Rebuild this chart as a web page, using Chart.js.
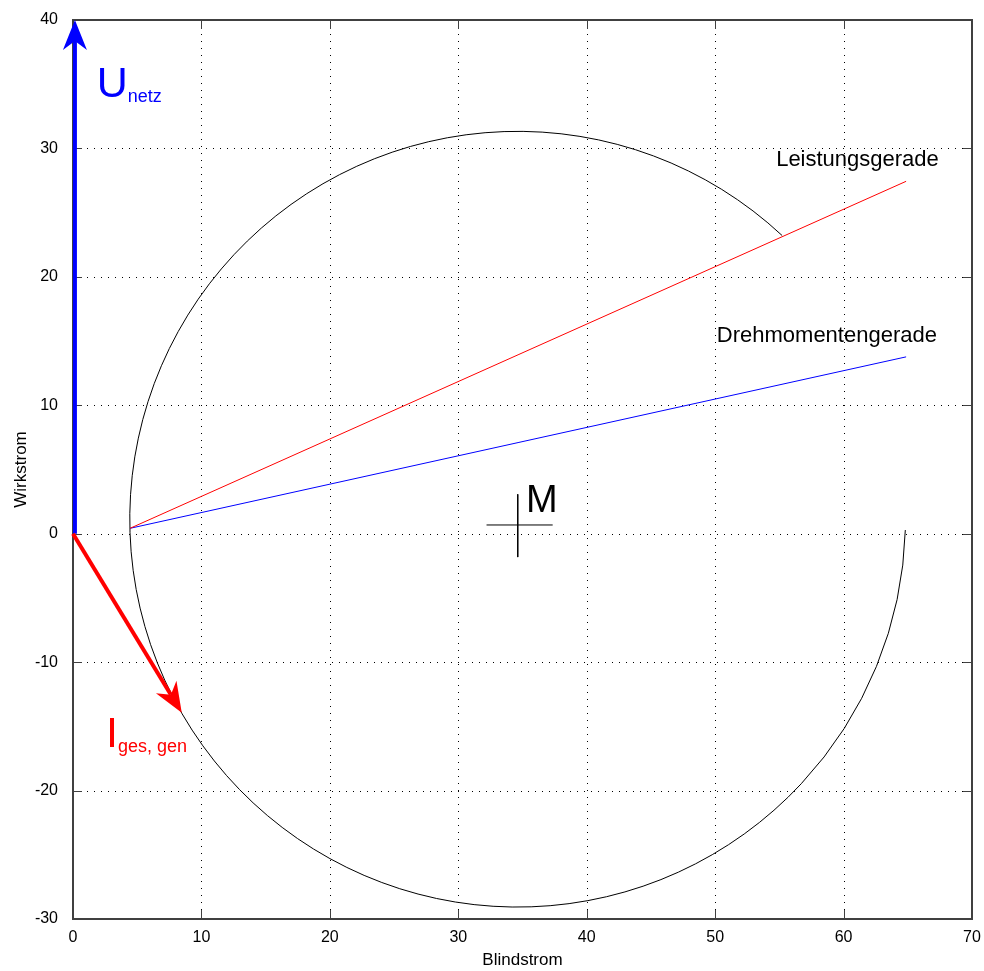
<!DOCTYPE html>
<html>
<head>
<meta charset="utf-8">
<script src="https://cdn.jsdelivr.net/npm/chart.js@4/dist/chart.umd.min.js"></script>
<style>
  html, body { margin: 0; padding: 0; background: #fff; }
</style>
</head>
<body>
<canvas id="myChart" width="984" height="971"></canvas>
<script>
// Achsen
const xTicks = [0, 10, 20, 30, 40, 50, 60, 70];
const yTicks = [-30, -20, -10, 0, 10, 20, 30, 40];

// Leistungsgerade (rot) und Drehmomentengerade (blau)
const leistungX = [4.44, 64.87];
const leistungY = [0.42, 27.44];
const drehX = [4.44, 64.87];
const drehY = [0.42, 13.77];

// Kreis: Mittelpunkt, Radius, Bogen in Grad (gegen den Uhrzeigersinn)
const kreisMitte = [34.62, 1.13];
const kreisRadius = [30.2];
const kreisBogen = [47, 358.4];

// Kreuz am Mittelpunkt M
const kreuzHX = [32.2, 37.35];
const kreuzHY = [0.68, 0.68];
const kreuzVX = [34.63, 34.63];
const kreuzVY = [3.07, -1.82];

// Zeiger U_netz und I_ges,gen
const uNetzX = [0.15, 0.15];
const uNetzY = [0, 40];
const iGesX = [0, 8.47];
const iGesY = [0, -13.94];

// Beschriftungen
const labelTexte = ['Leistungsgerade', 'Drehmomentengerade', 'M'];
const labelX = [54.75, 50.13, 35.28];
const labelY = [28.6, 14.9, 1.67];
const labelGroesse = [22, 22, 38];

const zeigerTexte = ['U', 'I'];
const zeigerIndex = ['netz', 'ges, gen'];
const zeigerX = [1.84, 2.57];
const zeigerY = [34.01, -16.62];
const zeigerFarben = ['#0000ff', '#ff0000'];

const FONT = '"Liberation Sans", Arial, Helvetica, sans-serif';
Chart.defaults.font.family = FONT;

const toPts = (xs, ys) => xs.map((x, i) => ({ x: x, y: ys[i] }));

function pfeil(ctx, x0, y0, x1, y1, farbe) {
    const dx = x1 - x0, dy = y1 - y0, len = Math.hypot(dx, dy);
    const ux = dx / len, uy = dy / len, nx = -uy, ny = ux;
    const kopf = 30, breite = 12, kerbe = 9;
    ctx.strokeStyle = farbe;
    ctx.fillStyle = farbe;
    ctx.lineWidth = 4;
    ctx.beginPath();
    ctx.moveTo(x0, y0);
    ctx.lineTo(x1 - ux * (kopf - kerbe), y1 - uy * (kopf - kerbe));
    ctx.stroke();
    ctx.beginPath();
    ctx.moveTo(x1, y1);
    ctx.lineTo(x1 - ux * kopf + nx * breite, y1 - uy * kopf + ny * breite);
    ctx.lineTo(x1 - ux * (kopf - kerbe), y1 - uy * (kopf - kerbe));
    ctx.lineTo(x1 - ux * kopf - nx * breite, y1 - uy * kopf - ny * breite);
    ctx.closePath();
    ctx.fill();
}

// Gitter, Rahmen und Ticks wie in MATLAB
const matlabAchsen = {
    id: 'matlabAchsen',
    beforeDatasetsDraw(chart) {
        const { ctx, chartArea: a, scales: { x, y } } = chart;
        ctx.save();
        ctx.lineWidth = 1;
        ctx.strokeStyle = '#000';
        ctx.setLineDash([1, 6]);
        xTicks.forEach(v => {
            if (v <= x.min || v >= x.max) return;
            const px = Math.round(x.getPixelForValue(v)) + 0.5;
            ctx.beginPath(); ctx.moveTo(px, a.top); ctx.lineTo(px, a.bottom); ctx.stroke();
        });
        yTicks.forEach(v => {
            if (v <= y.min || v >= y.max) return;
            const py = Math.round(y.getPixelForValue(v)) + 0.5;
            ctx.beginPath(); ctx.moveTo(a.left, py); ctx.lineTo(a.right, py); ctx.stroke();
        });
        ctx.setLineDash([]);

        // Ticks nach innen, auf allen vier Seiten
        const tl = 9;
        ctx.strokeStyle = '#404040';
        xTicks.forEach(v => {
            const px = Math.round(x.getPixelForValue(v)) + 0.5;
            ctx.beginPath();
            ctx.moveTo(px, a.bottom); ctx.lineTo(px, a.bottom - tl);
            ctx.moveTo(px, a.top); ctx.lineTo(px, a.top + tl);
            ctx.stroke();
        });
        yTicks.forEach(v => {
            const py = Math.round(y.getPixelForValue(v)) + 0.5;
            ctx.beginPath();
            ctx.moveTo(a.left, py); ctx.lineTo(a.left + tl, py);
            ctx.moveTo(a.right, py); ctx.lineTo(a.right - tl, py);
            ctx.stroke();
        });

        ctx.lineWidth = 2;
        ctx.strokeRect(a.left, a.top, a.right - a.left, a.bottom - a.top);

        // Kreisbogen
        const cx = x.getPixelForValue(kreisMitte[0]);
        const cy = y.getPixelForValue(kreisMitte[1]);
        const rx = Math.abs(x.getPixelForValue(kreisMitte[0] + kreisRadius[0]) - cx);
        const ry = Math.abs(y.getPixelForValue(kreisMitte[1] + kreisRadius[0]) - cy);
        ctx.strokeStyle = '#000';
        ctx.lineWidth = 1;
        ctx.beginPath();
        ctx.ellipse(cx, cy, rx, ry, 0, -kreisBogen[0] * Math.PI / 180, -kreisBogen[1] * Math.PI / 180, true);
        ctx.stroke();
        ctx.restore();
    },
    afterDatasetsDraw(chart) {
        const { ctx, scales: { x, y } } = chart;
        ctx.save();
        pfeil(ctx, x.getPixelForValue(uNetzX[0]), y.getPixelForValue(uNetzY[0]),
            x.getPixelForValue(uNetzX[1]), y.getPixelForValue(uNetzY[1]), '#0000ff');
        pfeil(ctx, x.getPixelForValue(iGesX[0]), y.getPixelForValue(iGesY[0]),
            x.getPixelForValue(iGesX[1]), y.getPixelForValue(iGesY[1]), '#ff0000');

        ctx.textAlign = 'left';
        ctx.textBaseline = 'alphabetic';
        ctx.fillStyle = '#000';
        labelTexte.forEach((t, i) => {
            ctx.font = labelGroesse[i] + 'px ' + FONT;
            ctx.fillText(t, x.getPixelForValue(labelX[i]), y.getPixelForValue(labelY[i]));
        });

        zeigerTexte.forEach((t, i) => {
            const px = x.getPixelForValue(zeigerX[i]);
            const py = y.getPixelForValue(zeigerY[i]);
            ctx.fillStyle = zeigerFarben[i];
            ctx.font = '43px ' + FONT;
            ctx.fillText(t, px, py);
            const w = ctx.measureText(t).width;
            ctx.font = '18px ' + FONT;
            ctx.fillText(zeigerIndex[i], px + w, py + 5);
        });
        ctx.restore();
    }
};

const ctx = document.getElementById('myChart').getContext('2d');
const myChart = new Chart(ctx, {
    type: 'scatter',
    data: {
        datasets: [{
            label: 'Leistungsgerade',
            data: toPts(leistungX, leistungY),
            borderColor: '#ff0000'
        }, {
            label: 'Drehmomentengerade',
            data: toPts(drehX, drehY),
            borderColor: '#0000ff'
        }, {
            label: 'M horizontal',
            data: toPts(kreuzHX, kreuzHY),
            borderColor: '#000'
        }, {
            label: 'M vertikal',
            data: toPts(kreuzVX, kreuzVY),
            borderColor: '#000'
        }].map(d => Object.assign(d, { showLine: true, borderWidth: 1, pointRadius: 0, fill: false }))
    },
    options: {
        responsive: false,
        animation: false,
        events: [],
        layout: { padding: { left: 0, right: 12, top: 20, bottom: 0 } },
        plugins: { legend: { display: false }, tooltip: { enabled: false } },
        scales: {
            x: {
                type: 'linear',
                min: 0, max: 70,
                afterFit: s => { s.height = 52; },
                grid: { display: false },
                border: { display: false },
                ticks: { stepSize: 10, padding: 1, color: '#000', font: { size: 16 }, maxRotation: 0 },
                title: { display: true, text: 'Blindstrom', color: '#000', font: { size: 17 }, padding: { top: 0, bottom: 0 } }
            },
            y: {
                type: 'linear',
                min: -30, max: 40,
                afterFit: s => { s.width = 73; },
                grid: { display: false },
                border: { display: false },
                ticks: { stepSize: 10, padding: 7, color: '#000', font: { size: 16 } },
                title: { display: true, text: 'Wirkstrom', color: '#000', font: { size: 17 }, padding: { top: 11, bottom: 0 } }
            }
        }
    },
    plugins: [matlabAchsen]
});
</script>
</body>
</html>
